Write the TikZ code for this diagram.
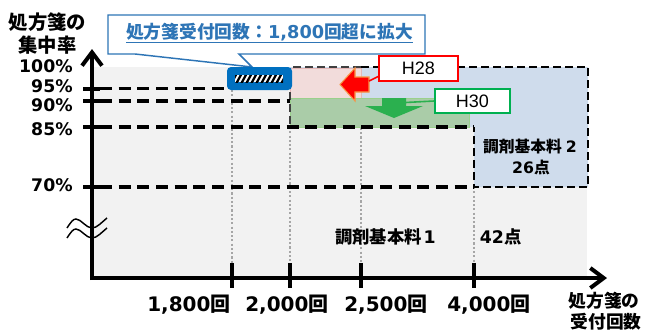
\documentclass[tikz,border=0pt]{standalone}
\usepackage{fontspec}
\setmainfont{DejaVu Sans}
\newfontfamily\jp{Noto Sans CJK JP}
\newfontfamily\arialf{Liberation Sans}
\usetikzlibrary{arrows.meta}
\definecolor{bggray}{RGB}{242,242,242}
\definecolor{bluef}{RGB}{207,220,236}
\definecolor{pinkf}{RGB}{242,220,219}
\definecolor{pinkd}{RGB}{230,184,183}
\definecolor{greenf}{RGB}{170,204,168}
\definecolor{greend}{RGB}{155,208,140}
\definecolor{arrowgreen}{RGB}{43,176,79}
\definecolor{hgreen}{RGB}{0,176,80}
\definecolor{arroworange}{RGB}{247,150,70}
\definecolor{calloutblue}{RGB}{46,117,182}
\definecolor{boxblue}{RGB}{0,112,192}
\definecolor{dotgray}{RGB}{166,166,166}
\tikzset{
  ylab/.style={font=\bfseries\fontsize{13pt}{13pt}\selectfont, inner sep=0pt, anchor=base east},
  xlab/.style={font=\bfseries\fontsize{15pt}{15pt}\selectfont, inner sep=0pt, anchor=base west},
  jtitle/.style={font=\jp\bfseries\fontsize{14.5pt}{14.5pt}\selectfont, inner sep=0pt},
  jtitlesmall/.style={font=\jp\bfseries\fontsize{13.3pt}{13.3pt}\selectfont, inner sep=0pt},
  axisline/.style={line width=3pt, -{Straight Barb[length=10pt,width=15pt]}},
  tickline/.style={line width=3pt},
  guide/.style={line width=2.5pt, dash pattern=on 9pt off 5pt},
  boxborder/.style={line width=2.2pt, dash pattern=on 6pt off 3pt},
  dotline/.style={dotgray, line width=2pt, dash pattern=on 1.6pt off 1.6pt},
  hbox/.style={fill=white, line width=1.5pt, inner sep=0pt, font=\arialf\fontsize{13.5pt}{13.5pt}\selectfont},
}
\begin{document}
\begin{tikzpicture}[x=0.75pt,y=-0.75pt]
\fill[white] (0,0) rectangle (651,333);
\useasboundingbox (0,0) rectangle (651,333);
% background
\fill[bggray] (92,67) rectangle (587,278);
% dotted guides
\draw[dotline] (232,90) -- (232,263);
\draw[dotline] (290,127) -- (290,263);
\draw[dotline] (361,98) -- (361,263);
\draw[dotline] (474,187) -- (474,263);
% blue region (調剤基本料2)
\fill[bluef] (290,67) -- (588,67) -- (588,187) -- (474,187) -- (474,127) -- (290,127) -- cycle;
\draw[pinkd, fill=pinkf] (290,68) rectangle (361,98);
\draw[greend, fill=greenf] (290,98) rectangle (469,127);
% box border
\draw[boxborder] (361,67) -- (588,67) -- (588,187) -- (474,187) -- (474,127);
\draw[boxborder, line width=1.3pt, black!75] (361,67) -- (290,67) -- (290,127);
% guide dashed lines
\draw[guide] (100,88.5) -- (228,88.5);
\draw[guide] (100,101) -- (290,101);
\draw[guide] (100,127) -- (474,127);
\draw[guide] (100,187) -- (474,187);
% red arrow (left)
\fill[red, draw=arroworange, line width=0.8pt] (340,84.5) -- (355,68) -- (355,77) -- (369,77) -- (369,92) -- (355,92) -- (355,101) -- cycle;
\coordinate (redtail) at (369,81);
% green arrow (down)
\fill[arrowgreen] (382,98) -- (406,98) -- (406,106) -- (423,106) -- (394,118) -- (365,106) -- (382,106) -- cycle;
\coordinate (greentail) at (396,103);
% H28 / H30 labels
\node[hbox, draw=red, minimum width=59pt, minimum height=18.75pt] (h28) at (418.5,68.5) {H28};
\node[hbox, draw=hgreen, minimum width=56pt, minimum height=18pt] (h30) at (472.5,101) {H30};
\draw[red, line width=1.2pt] ([yshift=-6pt]h28.west) -- (redtail);
\draw[arrowgreen, line width=1.2pt] (h30.west) -- (greentail);
% callout
\draw[calloutblue, fill=white, line width=1.1pt] (108,15) -- (425,15) -- (425,54) -- (239,54) -- (252,67) -- (135,54) -- (108,54) -- cycle;
\node[anchor=base west, inner sep=0pt, text=calloutblue, font=\bfseries\fontsize{13.3pt}{13.3pt}\selectfont] (ctext) at (126,38) {\underline{{\jp 処方箋受付回数：}1,800{\jp 回超に拡大}}};
% blue marker box with stripes
\fill[boxblue, rounded corners=3pt] (227,67) rectangle (292,90);
\begin{scope}
\clip (235,75) rectangle (283,82);
\fill[white] (235,75) rectangle (283,82);
\foreach \i in {0,...,11} \draw[line width=1.7pt] ({231+5*\i},84) -- ({237+5*\i},73);
\end{scope}
% axes
\draw[axisline] (92,280) -- (92,49);
\draw[axisline] (90,278) -- (607,278);
% y ticks
\foreach \yy in {88.5,101,127,187} \draw[tickline] (83,\yy) -- (100,\yy);
% x ticks
\foreach \xx in {232,290,361,474} \draw[tickline] (\xx,263) -- (\xx,288);
% break mark
\draw[line width=1.1pt] (67,228) .. controls (71,222) and (73,219) .. (76,219) .. controls (81,219) and (86,228) .. (92,228) .. controls (97,228) and (102,222) .. (107,218);
\draw[line width=1.1pt] (67,238) .. controls (71,232) and (73,229) .. (76,229) .. controls (81,229) and (86,238) .. (92,238) .. controls (97,238) and (102,232) .. (107,228);
% y labels
\node[ylab] (l100) at (73,72) {100\%};
\node[ylab] (l95) at (73,92) {95\%};
\node[ylab] (l90) at (73,111) {90\%};
\node[ylab] (l85) at (73,135) {85\%};
\node[ylab] (l70) at (73,191) {70\%};
% x labels
\node[xlab] (x1800) at (147,311) {1,800{\jp 回}};
\node[xlab] (x2000) at (245,311) {2,000{\jp 回}};
\node[xlab] (x2500) at (344,311) {2,500{\jp 回}};
\node[xlab] (x4000) at (447,311) {4,000{\jp 回}};
% axis titles
\node[jtitle] (yt1) at (47.5,22) {処方箋の};
\node[jtitle] (yt2) at (47.5,45) {集中率};
\node[jtitlesmall] (xt1) at (604,301) {処方箋の};
\node[jtitlesmall] (xt2) at (606,322) {受付回数};
% region labels
\node[font=\bfseries\fontsize{11.8pt}{11.8pt}\selectfont, inner sep=0pt] (k2a) at (530,147) {{\jp 調剤基本料}\hspace{0.25em}2};
\node[font=\bfseries\fontsize{11.8pt}{11.8pt}\selectfont, inner sep=0pt] (k2b) at (531,167) {26{\jp 点}};
\node[anchor=base west, inner sep=0pt, font=\bfseries\fontsize{13pt}{13pt}\selectfont] (k1) at (335,243) {{\jp 調剤基本料}\hspace{0.1em}1\hspace{2.55em}42{\jp 点}};
\end{tikzpicture}
\end{document}
